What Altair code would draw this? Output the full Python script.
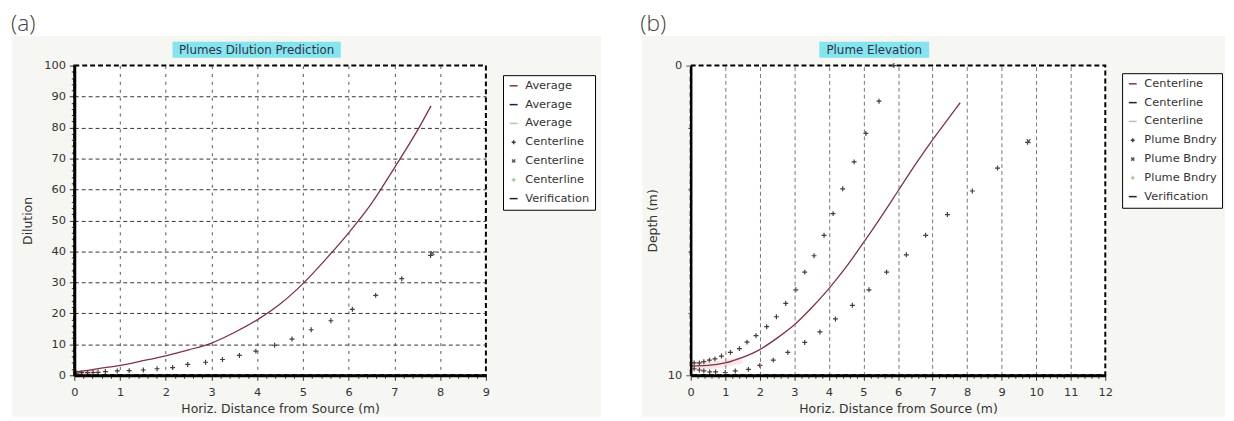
import altair as alt
import pandas as pd

# ---------------- panel (a): Plumes Dilution Prediction ----------------
avg_x = [0, 0.25, 0.5, 1, 1.5, 2, 2.5, 3, 3.5, 4, 4.5, 5, 5.5, 6, 6.5, 7, 7.5, 7.8]
avg_y = [1.0, 1.5, 2.1, 3.2, 4.7, 6.3, 8.2, 10.4, 13.8, 17.9, 23.0, 29.6, 37.5, 46.0, 55.5, 67.0, 79.0, 87.0]
cl_x = [0.05, 0.16, 0.29, 0.41, 0.52, 0.68, 0.94, 1.2, 1.51, 1.81, 2.15, 2.48, 2.87, 3.24,
        3.61, 3.97, 4.38, 4.76, 5.18, 5.61, 6.08, 6.59, 7.16, 7.79]
cl_y = [0.7, 0.85, 0.85, 0.9, 0.95, 1.2, 1.4, 1.5, 1.7, 2.1, 2.5, 3.5, 4.2, 5.1,
        6.4, 7.8, 9.7, 11.7, 14.7, 17.6, 21.3, 25.8, 31.2, 38.7]
clx_x = [7.83]
clx_y = [39.4]
glow_a_x = [0, 0.25, 0.5]
glow_a_y = [0.8, 1.0, 1.3]

legend_a = ["Average", "Average ", "Average  ", "Centerline", "Centerline ", "Centerline  ", "Verification"]
colors_a = ["#7d3340", "#222222", "#b9c2b0", "#4a3a3a", "#555555", "#a8c8a0", "#222222"]

x_ticks_a = [round(i * 0.2, 1) for i in range(46)]
y_ticks_a = list(range(0, 101, 2))

# ---------------- panel (b): Plume Elevation ----------------
cen_x = [0, 0.5, 1, 1.5, 2, 2.5, 3, 3.5, 4, 4.5, 5, 5.5, 6, 6.5, 7, 7.5, 7.8]
cen_d = [9.7, 9.68, 9.6, 9.42, 9.17, 8.8, 8.37, 7.82, 7.2, 6.5, 5.72, 4.9, 4.05, 3.2, 2.4, 1.65, 1.2]
up_x = [0.1, 0.25, 0.38, 0.54, 0.7, 0.89, 1.15, 1.41, 1.63, 1.89, 2.2, 2.48, 2.75, 3.04,
        3.3, 3.57, 3.86, 4.12, 4.4, 4.73, 5.07, 5.45, 5.88]
up_d = [9.6, 9.6, 9.56, 9.51, 9.47, 9.38, 9.26, 9.14, 8.93, 8.72, 8.43, 8.11, 7.68, 7.24,
        6.67, 6.14, 5.48, 4.78, 3.98, 3.11, 2.19, 1.15, 0.0]
lo_x = [0.1, 0.25, 0.38, 0.55, 0.72, 1.0, 1.29, 1.67, 2.0, 2.39, 2.81, 3.3, 3.74, 4.19,
        4.68, 5.16, 5.67, 6.24, 6.8, 7.43, 8.15, 8.88, 9.75]
lo_d = [9.79, 9.83, 9.86, 9.89, 9.89, 9.91, 9.86, 9.81, 9.68, 9.51, 9.26, 8.94, 8.6, 8.18,
        7.74, 7.24, 6.67, 6.11, 5.48, 4.81, 4.05, 3.31, 2.48]
bx_x = [9.78]
bx_d = [2.44]
glow_b_x = [0, 0.5, 1.0, 1.5]
glow_b_d = [9.75, 9.7, 9.62, 9.5]

legend_b = ["Centerline", "Centerline ", "Centerline  ", "Plume Bndry", "Plume Bndry ", "Plume Bndry  ", "Verification"]
colors_b = ["#7d3340", "#222222", "#b9c2b0", "#4a3a3a", "#555555", "#a8c8a0", "#222222"]

x_ticks_b = [round(i * 0.2, 1) for i in range(61)]
y_ticks_b = [0, 2, 4, 6, 8, 10]

PLUS = "M-0.5,0H0.5M0,-0.5V0.5"
CROSS = "M-0.4,-0.4L0.4,0.4M-0.4,0.4L0.4,-0.4"
shapes = ["stroke", "stroke", "stroke", PLUS, CROSS, PLUS, "stroke"]

FONT = "DejaVu Sans"
one = pd.DataFrame({"k": [0]})


def deco(title, label, W, H, left, right, tleft, tright, lab_x):
    layers = [
        alt.Chart(one).mark_rect(opacity=0).encode(
            x=alt.value(left - 3), x2=alt.value(0), y=alt.value(-55), y2=alt.value(-54)),
        alt.Chart(one).mark_rect(color="#f6f6f2").encode(
            x=alt.value(left), x2=alt.value(right), y=alt.value(-30), y2=alt.value(355)),
        alt.Chart(one).mark_rect(color="#84e4f0").encode(
            x=alt.value(tleft), x2=alt.value(tright), y=alt.value(-24), y2=alt.value(-8)),
        alt.Chart(one).mark_text(text=title, font=FONT, fontSize=12, color="#333344",
                                 align="center", baseline="middle").encode(
            x=alt.value((tleft + tright) / 2), y=alt.value(-16)),
        alt.Chart(one).mark_text(text=label, font="Open Sans", fontWeight=300, fontSize=23,
                                 color="#444444", align="left", baseline="alphabetic").encode(
            x=alt.value(lab_x), y=alt.value(-35)),
        alt.Chart(one).mark_rect(fill="white", stroke="black", strokeWidth=2,
                                 strokeDash=[5, 3]).encode(
            x=alt.value(0), x2=alt.value(W), y=alt.value(0), y2=alt.value(H)),
    ]
    return layers


def make_legend(lx, ly):
    return alt.Legend(title=None, orient="none", legendX=lx, legendY=ly,
                      strokeColor="black", fillColor="white", padding=5,
                      labelFont=FONT, labelFontSize=11.5, labelColor="#333333",
                      symbolSize=64, symbolStrokeWidth=1.5, rowPadding=6,
                      labelOffset=6, cornerRadius=0)


# ---------------- build panel (a) ----------------
WA, HA = 416, 313
xa = alt.X("x:Q", scale=alt.Scale(domain=[0, 9], nice=False, zero=False),
           axis=alt.Axis(values=x_ticks_a, title="Horiz. Distance from Source (m)",
                         labelExpr="datum.value % 1 == 0 ? format(datum.value, 'd') : ''",
                         labelOverlap=False, labelFlush=False, labelPadding=6, titlePadding=5,
                         tickSize={"condition": {"test": "datum.value % 1 == 0", "value": 5}, "value": 3},
                         grid=True,
                         gridOpacity={"condition": {"test": "datum.value % 1 == 0 && datum.value > 0 && datum.value < 9", "value": 1}, "value": 0},
                         gridDash=[3, 5], gridColor="#555555", gridWidth=1,
                         domainWidth=3, domainColor="black", tickColor="#333333", zindex=1))
ya = alt.Y("y:Q", scale=alt.Scale(domain=[0, 100], nice=False, zero=False),
           axis=alt.Axis(values=y_ticks_a, title="Dilution",
                         labelExpr="datum.value % 10 == 0 ? datum.label : ''",
                         labelOverlap=False, labelFlush=False, labelPadding=4, titlePadding=9,
                         tickSize={"condition": {"test": "datum.value % 10 == 0", "value": 5}, "value": 3},
                         grid=True,
                         gridOpacity={"condition": {"test": "datum.value % 10 == 0 && datum.value > 0 && datum.value < 100", "value": 1}, "value": 0},
                         gridDash=[4, 3], gridColor="#333333", gridWidth=1,
                         domainWidth=3, domainColor="black", tickColor="#333333", zindex=1))

col_a = alt.Color("s:N", scale=alt.Scale(domain=legend_a, range=colors_a), legend=make_legend(433.3, 9.7))
shp_a = alt.Shape("s:N", scale=alt.Scale(domain=legend_a, range=shapes), legend=make_legend(433.3, 9.7))

df_avg = pd.DataFrame({"x": avg_x, "y": avg_y, "s": legend_a[0]})
df_cl = pd.DataFrame({"x": cl_x + clx_x, "y": cl_y + clx_y,
                      "s": [legend_a[3]] * len(cl_x) + [legend_a[4]] * len(clx_x)})
df_glow_a = pd.DataFrame({"x": glow_a_x, "y": glow_a_y})

panel_a = alt.layer(
    *deco("Plumes Dilution Prediction", "(a)", WA, HA, -62.7, 532.3, 99.3, 269.3, -64),
    alt.Chart(df_glow_a).mark_line(color="#e07a95", strokeWidth=5, opacity=0.25).encode(x=xa, y=ya),
    alt.Chart(df_avg).mark_line(strokeWidth=1.3, interpolate="monotone").encode(x=xa, y=ya, color=col_a),
    alt.Chart(df_cl).mark_point(filled=False, size=100, strokeWidth=1.2, opacity=1).encode(
        x=xa, y=ya, color=col_a, shape=shp_a),
).properties(width=WA, height=HA)

# ---------------- build panel (b) ----------------
WB, HB = 419, 313
xb = alt.X("x:Q", scale=alt.Scale(domain=[0, 12], nice=False, zero=False),
           axis=alt.Axis(values=x_ticks_b, title="Horiz. Distance from Source (m)",
                         labelExpr="datum.value % 1 == 0 ? format(datum.value, 'd') : ''",
                         labelOverlap=False, labelFlush=False, labelPadding=6, titlePadding=5,
                         tickSize={"condition": {"test": "datum.value % 1 == 0", "value": 5}, "value": 3},
                         grid=True,
                         gridOpacity={"condition": {"test": "datum.value % 1 == 0 && datum.value > 0 && datum.value < 12", "value": 1}, "value": 0},
                         gridDash=[4, 3], gridColor="#777777", gridWidth=1,
                         domainWidth=3, domainColor="black", tickColor="#333333", zindex=1))
yb = alt.Y("d:Q", scale=alt.Scale(domain=[0, 10], nice=False, zero=False, reverse=True),
           axis=alt.Axis(values=y_ticks_b, title="Depth (m)",
                         labelExpr="datum.value == 0 || datum.value == 10 ? datum.label : ''",
                         labelOverlap=False, labelFlush=False, labelPadding=4, titlePadding=8,
                         tickSize={"condition": {"test": "datum.value == 0 || datum.value == 10", "value": 5}, "value": 3},
                         grid=False, domainWidth=2.5, domainColor="black", tickColor="#555555", zindex=1))

col_b = alt.Color("s:N", scale=alt.Scale(domain=legend_b, range=colors_b), legend=make_legend(436, 7.7))
shp_b = alt.Shape("s:N", scale=alt.Scale(domain=legend_b, range=shapes), legend=make_legend(436, 7.7))

df_cen = pd.DataFrame({"x": cen_x, "d": cen_d, "s": legend_b[0]})
df_bnd = pd.DataFrame({"x": up_x + lo_x + bx_x, "d": up_d + lo_d + bx_d,
                       "s": [legend_b[3]] * (len(up_x) + len(lo_x)) + [legend_b[4]] * len(bx_x)})
df_glow_b = pd.DataFrame({"x": glow_b_x, "d": glow_b_d})

panel_b = alt.layer(
    *deco("Plume Elevation", "(b)", WB, HB, -49, 540, 130, 241, -51),
    alt.Chart(df_glow_b).mark_line(color="#e07a95", strokeWidth=7, opacity=0.18).encode(x=xb, y=yb),
    alt.Chart(df_cen).mark_line(strokeWidth=1.3, interpolate="monotone").encode(x=xb, y=yb, color=col_b),
    alt.Chart(df_bnd).mark_point(filled=False, size=100, strokeWidth=1.2, opacity=1).encode(
        x=xb, y=yb, color=col_b, shape=shp_b),
).properties(width=WB, height=HB)

chart = alt.hconcat(panel_a, panel_b, spacing=37).resolve_scale(
    color="independent", shape="independent", x="independent", y="independent"
).configure_view(stroke="transparent").configure_axis(
    labelFont=FONT, labelFontSize=11.5, labelColor="#333333",
    titleFont=FONT, titleFontSize=12.5, titleFontWeight="normal", titleColor="#333333"
).properties(padding=0, background="white")

chart.save("out.html", embed_options={"renderer": "svg", "actions": False})
